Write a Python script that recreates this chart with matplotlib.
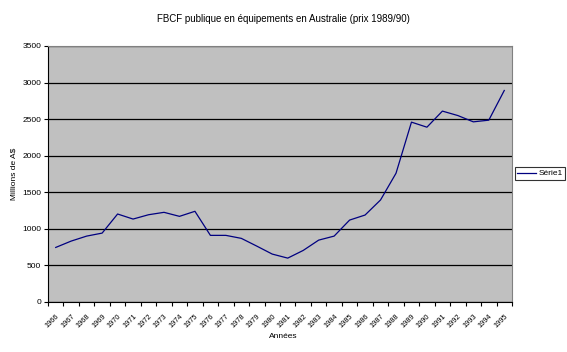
import matplotlib
matplotlib.use("Agg")
import matplotlib.pyplot as plt
import matplotlib.transforms as mtransforms
import numpy as np

years = [str(y) for y in range(1966, 1996)]
values = [746, 833, 901, 942, 1203, 1134, 1193, 1226, 1171, 1240,
          911, 911, 870, 764, 655, 600, 705, 846, 901, 1120,
          1189, 1395, 1760, 2459, 2390, 2610, 2549, 2463, 2486, 2892]
yticks = [0, 500, 1000, 1500, 2000, 2500, 3000, 3500]

plt.rcParams['font.family'] = ['Liberation Sans', 'DejaVu Sans']

fig = plt.figure(figsize=(5.67, 3.52), dpi=100)
ax = fig.add_axes([48/567, 1-302/352, 464/567, 256/352])
ax.set_facecolor('#C0C0C0')

n = len(years)
x = np.arange(n)
ax.plot(x, values, color='#000080', linewidth=0.9, label='Série1')
ax.set_xlim(-0.5, n - 0.5)
ax.set_ylim(0, 3500)
ax.set_yticks(yticks)
ax.set_yticklabels([str(v) for v in yticks], fontsize=6)
ax.yaxis.grid(True, color='black', linewidth=0.9)
ax.set_axisbelow(True)

ax.set_xticks(x)
ax.set_xticklabels(years, rotation=45, fontsize=5.3, ha='right', rotation_mode='anchor')
offset = mtransforms.ScaledTranslation(-5/100, 0, fig.dpi_scale_trans)
for lbl in ax.get_xticklabels():
    lbl.set_transform(lbl.get_transform() + offset)
ax.set_xticks(np.arange(-0.5, n, 1), minor=True)
ax.tick_params(axis='x', which='major', length=0, pad=8)
ax.tick_params(axis='x', which='minor', length=3, width=0.8, color='black')
ax.tick_params(axis='y', length=3, width=0.8, color='black', pad=2)

for s in ['top', 'right']:
    ax.spines[s].set_color('#808080')
    ax.spines[s].set_linewidth(0.8)
for s in ['left', 'bottom']:
    ax.spines[s].set_color('black')
    ax.spines[s].set_linewidth(0.8)

fig.text(0.5, 1-19/352, 'FBCF publique en équipements en Australie (prix 1989/90)',
         ha='center', va='center', fontsize=7)
fig.text(14/567, 1-174/352, 'Millions de A$', rotation=90, ha='center', va='center', fontsize=6)
fig.text(283/567, 1-336/352, 'Années', ha='center', va='center', fontsize=6)

leg = fig.legend(loc='center', bbox_to_anchor=(540/567, 1-173.5/352), fontsize=6,
                 frameon=True, fancybox=False, handlelength=2.2, borderpad=0.3,
                 handletextpad=0.3, borderaxespad=0)
leg.get_frame().set_edgecolor('black')
leg.get_frame().set_linewidth(0.8)

fig.savefig('out.png', dpi=100)
